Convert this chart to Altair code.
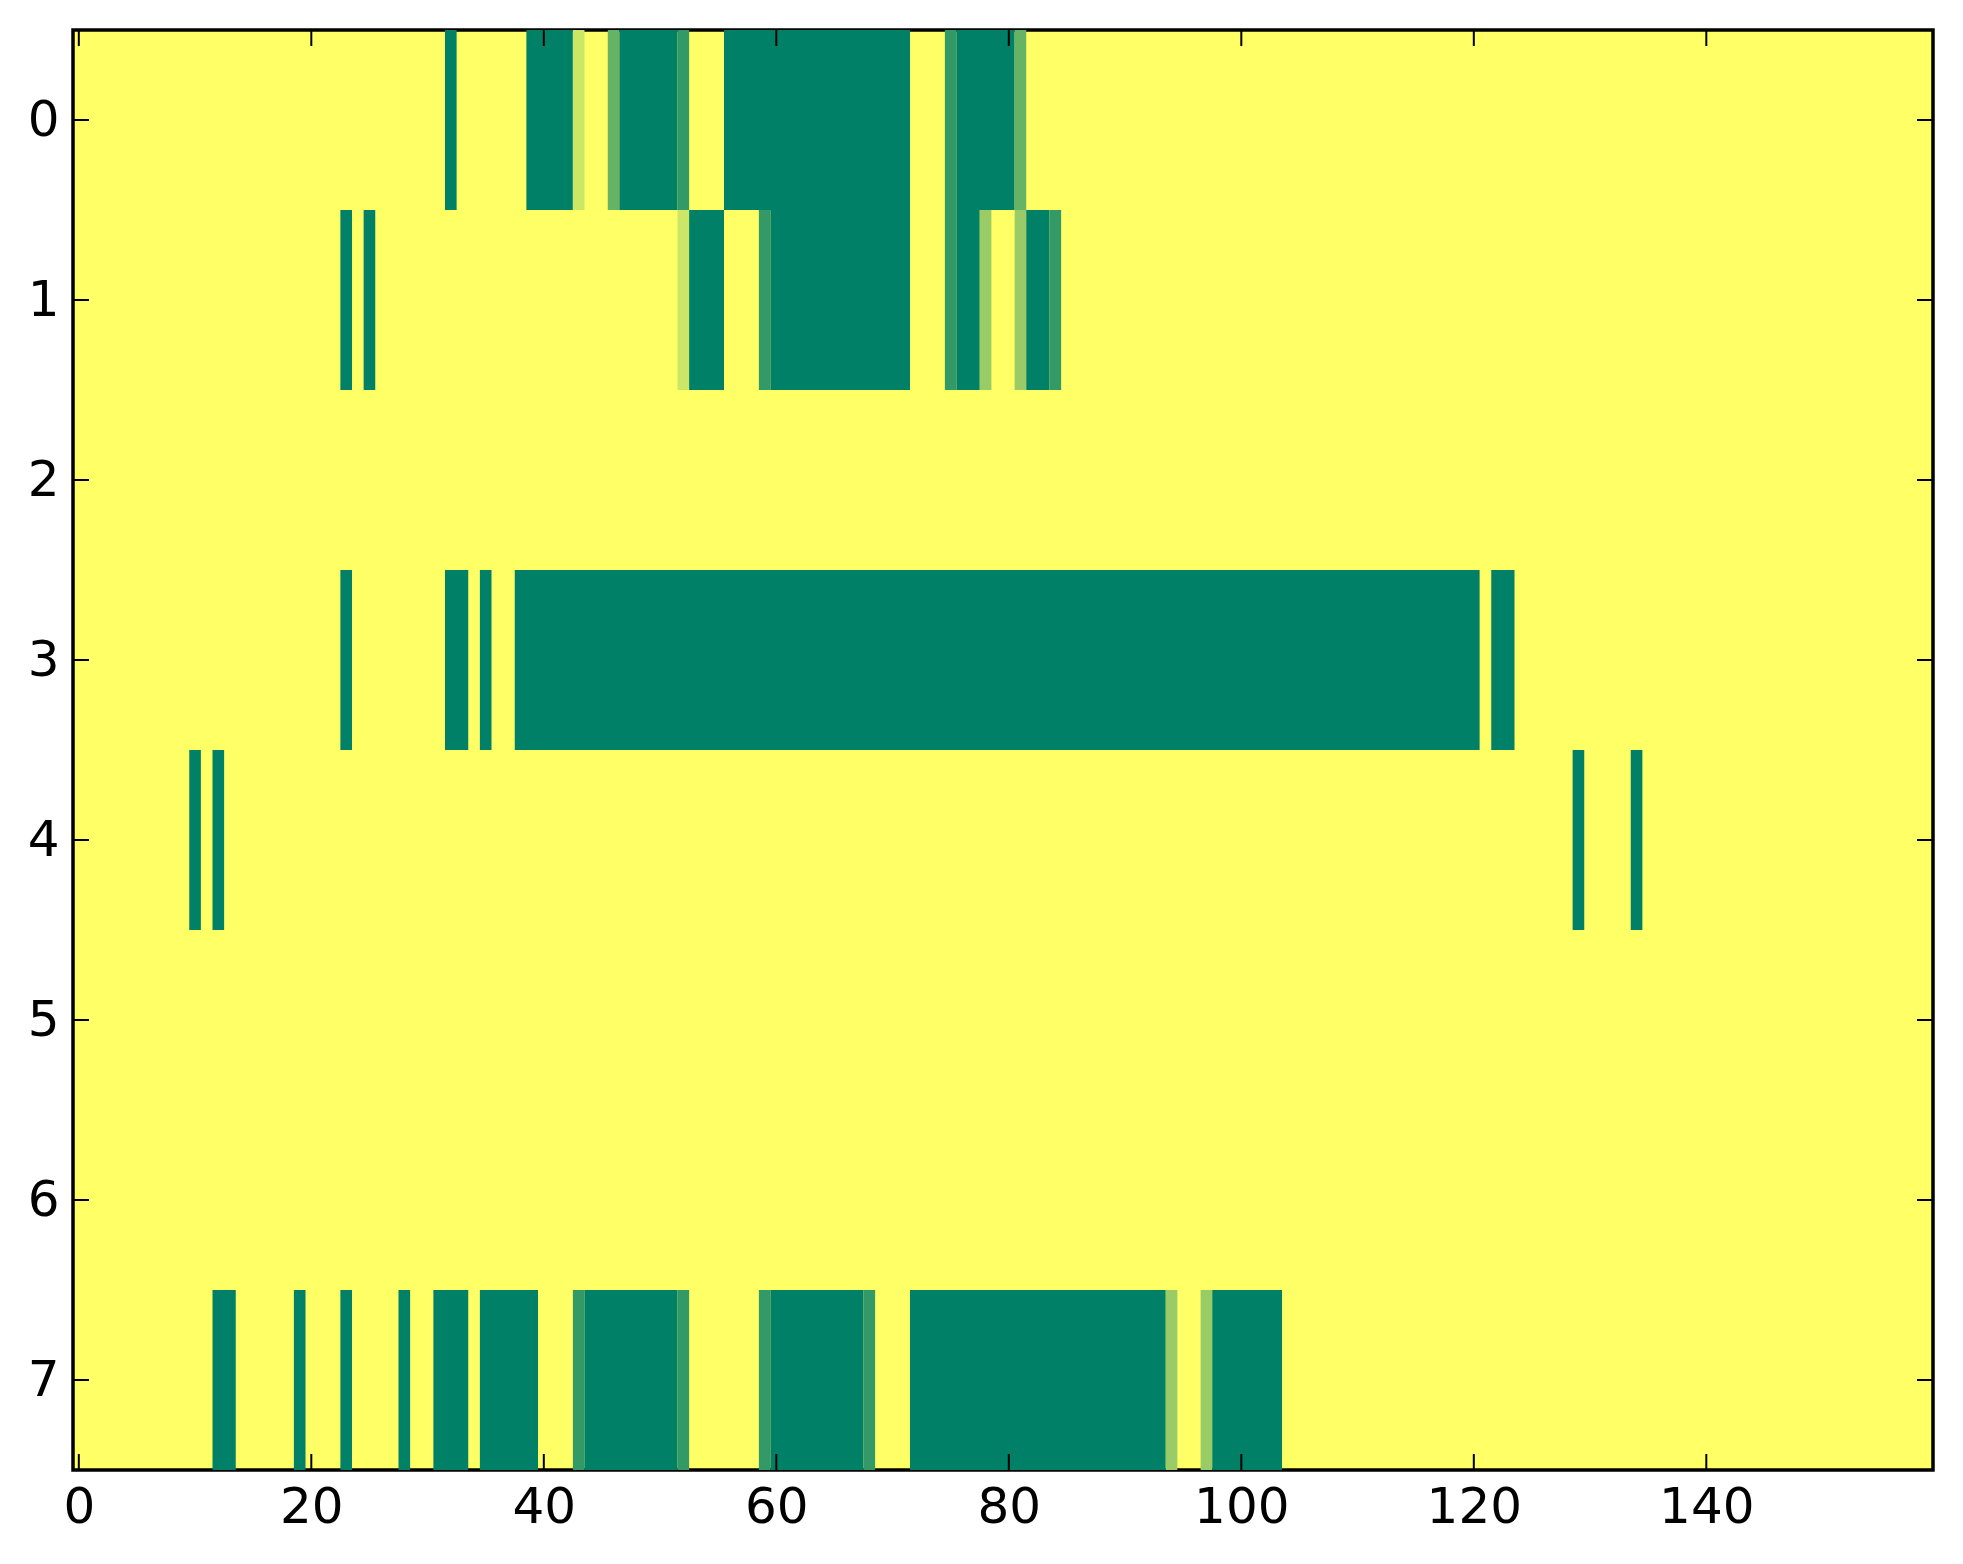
import altair as alt
import pandas as pd

# Grid size (columns 0..159, rows 0..7); every cell not listed below has value 1.0 (yellow)
n_cols = 160
n_rows = 8

# Runs of non-yellow cells per row: (first column, last column, value)
row0 = [(32, 32, 0.0), (39, 42, 0.0), (43, 43, 0.8), (46, 46, 0.4), (47, 51, 0.0),
        (52, 52, 0.2), (56, 71, 0.0), (75, 75, 0.2), (76, 80, 0.0), (81, 81, 0.4)]
row1 = [(23, 23, 0.0), (25, 25, 0.0), (52, 52, 0.8), (53, 55, 0.0), (59, 59, 0.2),
        (60, 71, 0.0), (75, 75, 0.2), (76, 77, 0.0), (78, 78, 0.6), (81, 81, 0.6),
        (82, 83, 0.0), (84, 84, 0.2)]
row2 = []
row3 = [(23, 23, 0.0), (32, 33, 0.0), (35, 35, 0.0), (38, 120, 0.0), (122, 123, 0.0)]
row4 = [(10, 10, 0.0), (12, 12, 0.0), (129, 129, 0.0), (134, 134, 0.0)]
row5 = []
row6 = []
row7 = [(12, 13, 0.0), (19, 19, 0.0), (23, 23, 0.0), (28, 28, 0.0), (31, 33, 0.0),
        (35, 39, 0.0), (43, 43, 0.2), (44, 51, 0.0), (52, 52, 0.2), (59, 59, 0.2),
        (60, 67, 0.0), (68, 68, 0.2), (72, 93, 0.0), (94, 94, 0.6), (97, 97, 0.6),
        (98, 103, 0.0)]
rows = [row0, row1, row2, row3, row4, row5, row6, row7]

x_ticks = [0, 20, 40, 60, 80, 100, 120, 140]
y_ticks = [0, 1, 2, 3, 4, 5, 6, 7]

W, H = 1860, 1440
TL = 16  # inward tick length

recs = []
for r, runs in enumerate(rows):
    for a, b, v in runs:
        recs.append({"x0": a - 0.5, "x1": b + 0.5, "y0": r - 0.5, "y1": r + 0.5, "v": v})
cells = pd.DataFrame(recs)

xs = alt.Scale(domain=[-0.5, n_cols - 0.5], nice=False, zero=False)
ys = alt.Scale(domain=[-0.5, n_rows - 0.5], nice=False, zero=False, reverse=True)

FONT = "DejaVu Sans"

xaxis = alt.Axis(values=x_ticks, format="d", title=None, ticks=False, domain=False,
                 grid=False, labelFont=FONT, labelFontSize=50, labelColor="black",
                 labelPadding=12, labelFlush=False)
yaxis = alt.Axis(values=y_ticks, format="d", title=None, ticks=False, domain=False,
                 grid=False, labelFont=FONT, labelFontSize=50, labelColor="black",
                 labelPadding=14, labelFlush=False)

heat = alt.Chart(cells).mark_rect(strokeWidth=0).encode(
    x=alt.X("x0:Q", scale=xs, axis=xaxis),
    x2="x1:Q",
    y=alt.Y("y0:Q", scale=ys, axis=yaxis),
    y2="y1:Q",
    color=alt.Color("v:Q", scale=alt.Scale(domain=[0, 1], range=["#008066", "#ffff66"],
                                           interpolate="rgb"), legend=None),
)

xt = pd.DataFrame({"t": x_ticks})
yt = pd.DataFrame({"t": y_ticks})

tick_style = dict(color="black", strokeWidth=2)
bottom = alt.Chart(xt).mark_rule(**tick_style).encode(
    x=alt.X("t:Q", scale=xs, axis=xaxis), y=alt.value(H - TL), y2=alt.value(H))
top = alt.Chart(xt).mark_rule(**tick_style).encode(
    x=alt.X("t:Q", scale=xs, axis=xaxis), y=alt.value(0), y2=alt.value(TL))
left = alt.Chart(yt).mark_rule(**tick_style).encode(
    y=alt.Y("t:Q", scale=ys, axis=yaxis), x=alt.value(0), x2=alt.value(TL))
right = alt.Chart(yt).mark_rule(**tick_style).encode(
    y=alt.Y("t:Q", scale=ys, axis=yaxis), x=alt.value(W - TL), x2=alt.value(W))

chart = alt.layer(heat, bottom, top, left, right).properties(
    width=W, height=H,
    padding={"left": 19, "top": 21, "right": 5, "bottom": 5},
    background="white",
).configure_view(fill="#ffff66", stroke="black", strokeWidth=3.5)

chart.save("out.html", embed_options={"renderer": "svg", "actions": False})
